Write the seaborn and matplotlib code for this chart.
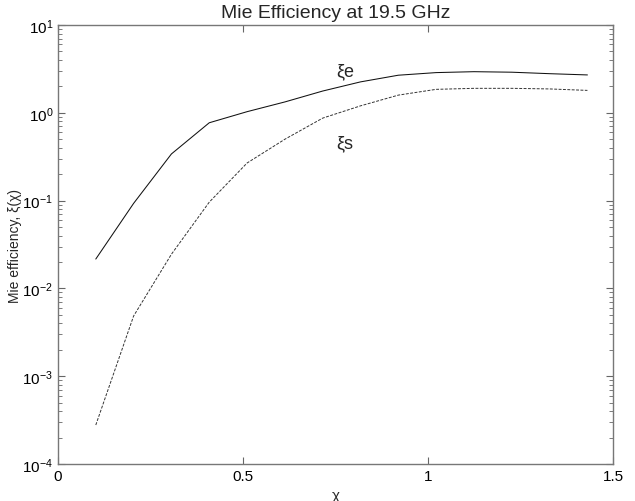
import numpy as np
import pandas as pd
import matplotlib
matplotlib.use("Agg")
import matplotlib.pyplot as plt
import seaborn as sns
from matplotlib.ticker import LogLocator, FixedLocator

# size parameter chi = 2*pi*a/lambda for radii 0.25..3.5 mm at 19.5 GHz
chi = [0.1022, 0.2044, 0.3066, 0.4088, 0.5110, 0.6132, 0.7154,
       0.8176, 0.9198, 1.0220, 1.1242, 1.2264, 1.3286, 1.4308]
xi_e = [0.0216, 0.093, 0.34, 0.77, 1.03, 1.33, 1.77,
        2.25, 2.68, 2.87, 2.94, 2.90, 2.79, 2.70]
xi_s = [0.000278, 0.00485, 0.0245, 0.096, 0.268, 0.50, 0.87,
        1.20, 1.59, 1.85, 1.90, 1.90, 1.87, 1.80]

sns.set_style("ticks")
plt.rcParams['font.family'] = ['Liberation Sans', 'DejaVu Sans']
plt.rcParams['mathtext.fontset'] = 'custom'
plt.rcParams['mathtext.rm'] = 'Liberation Sans'
plt.rcParams['mathtext.it'] = 'Liberation Sans'

df = pd.DataFrame({"chi": chi * 2,
                   "val": xi_e + xi_s,
                   "series": ["e"] * len(chi) + ["s"] * len(chi)})

fig = plt.figure(figsize=(6.35, 5.02), dpi=100)
ax = fig.add_axes([0.0913, 0.0737, 0.8741, 0.8745])

sns.lineplot(data=df[df.series == "e"], x="chi", y="val", ax=ax,
             color="#111111", linewidth=0.75, linestyle="-", legend=False)
sns.lineplot(data=df[df.series == "s"], x="chi", y="val", ax=ax,
             color="#333333", linewidth=0.7, linestyle=(0, (3, 1.5)), legend=False)

ax.set_yscale("log")
ax.set_xlim(0, 1.5)
ax.set_ylim(1e-4, 1e1)
ax.xaxis.set_major_locator(FixedLocator([0, 0.5, 1, 1.5]))
ax.set_xticklabels(["0", "0.5", "1", "1.5"])
ax.yaxis.set_major_locator(LogLocator(base=10, numticks=10))
ax.yaxis.set_minor_locator(LogLocator(base=10, subs=np.arange(2, 10), numticks=20))

ax.tick_params(which="both", direction="in", top=True, right=True,
               colors="#666666", labelcolor="black", labelsize=11)
ax.tick_params(which="major", length=5, width=0.8)
ax.tick_params(which="minor", length=3, width=0.6)
for s in ax.spines.values():
    s.set_color("#777777")
    s.set_linewidth(1.0)

ax.set_title("Mie Efficiency at 19.5 GHz", fontsize=14, pad=6)
ax.set_xlabel("χ", fontsize=11, labelpad=4)
ax.set_ylabel("Mie efficiency, ξ(χ)", fontsize=10, labelpad=0)

ax.text(0.776, 3.0, "ξe", fontsize=13, ha="center", va="center")
ax.text(0.776, 0.46, "ξs", fontsize=13, ha="center", va="center")

fig.savefig("out.png", dpi=100, facecolor="white")
